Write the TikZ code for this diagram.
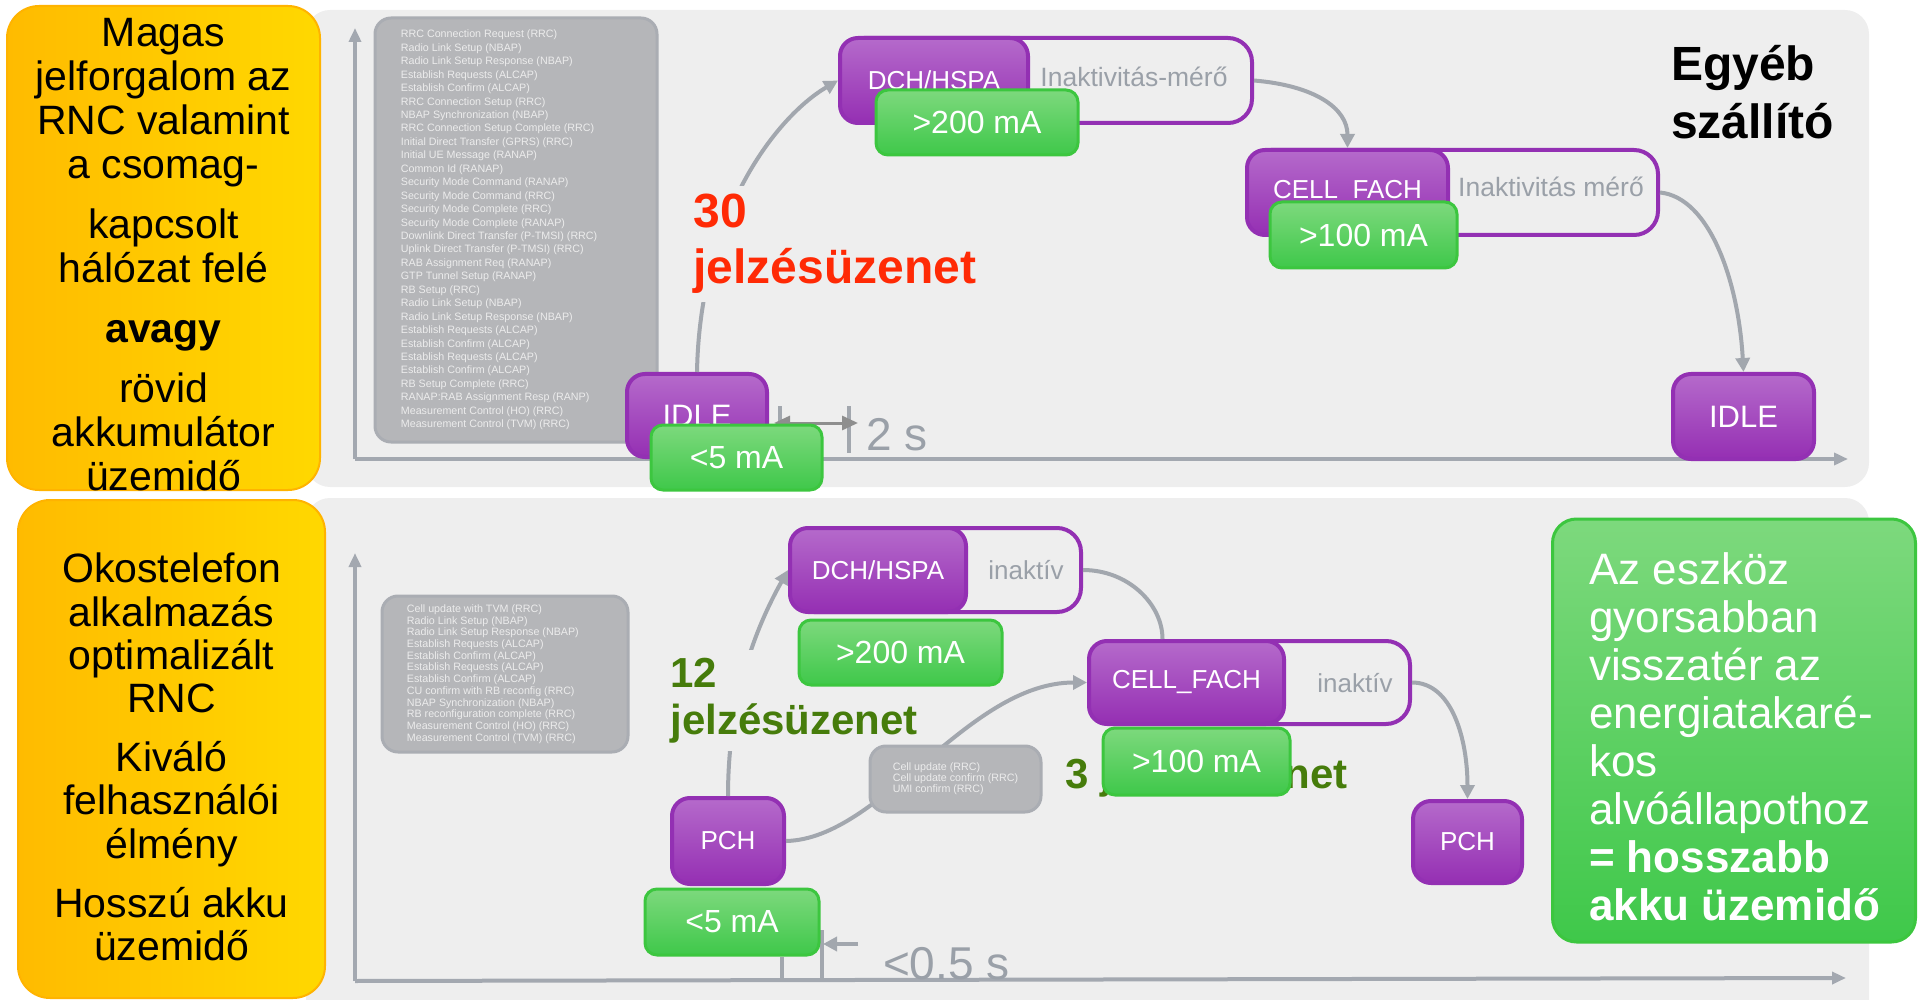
\documentclass[tikz,border=0pt]{standalone}
\usepackage{fontspec}
\setmainfont{Liberation Sans}
\usetikzlibrary{arrows.meta,positioning}

\definecolor{panelgray}{HTML}{EEEEEE}
\definecolor{sideorange}{HTML}{FFBB00}
\definecolor{sideyellow}{HTML}{FFD800}
\definecolor{sideborder}{HTML}{FFB300}
\definecolor{axisgray}{HTML}{A3A8B0}
\definecolor{linkgray}{HTML}{A2A7AE}
\definecolor{spangray}{HTML}{8E8E8E}
\definecolor{msggray}{HTML}{B5B6B9}
\definecolor{msgborder}{HTML}{AAADB3}
\definecolor{msgtextc}{HTML}{ECECEC}
\definecolor{purpletop}{HTML}{B56ACB}
\definecolor{purplebot}{HTML}{952FB3}
\definecolor{purpleborder}{HTML}{9330B3}
\definecolor{greentop}{HTML}{7DD97D}
\definecolor{greenbot}{HTML}{3FC84A}
\definecolor{greenborder}{HTML}{3CC63F}
\definecolor{timergray}{HTML}{9AA0A8}
\definecolor{sigred}{HTML}{FF2A05}
\definecolor{siggreen}{HTML}{467C0B}

\begin{document}
\begin{tikzpicture}[x=0.5pt, y=-0.5pt,
    panel/.style={fill=panelgray, rounded corners=12pt},
    sidebox/.style={draw=sideborder, line width=1pt, left color=sideorange, right color=sideyellow,
      rounded corners=16pt},
    sidetext/.style={inner sep=0pt, align=center, font=\fontsize{20.5}{22}\selectfont},
    axisline/.style={draw=axisgray, line width=2pt, -{Triangle[length=7pt,width=6pt]}},
    msgbox/.style={draw=msgborder, line width=1.5pt, fill=msggray, rounded corners=8pt},
    msgtext/.style={text=msgtextc, align=left, inner sep=0pt},
    timer/.style={draw=purpleborder, line width=2pt, rounded corners=12pt},
    state/.style={draw=purpleborder, line width=2pt, top color=purpletop, bottom color=purplebot,
      rounded corners=9pt, text=white, font=\fontsize{13}{15}\selectfont},
    timertext/.style={text=timergray, font=\fontsize{13.25}{15}\selectfont},
    current/.style={draw=greenborder, line width=1.5pt, top color=greentop, bottom color=greenbot,
      rounded corners=6pt, text=white, font=\fontsize{16}{18}\selectfont},
    link/.style={draw=linkgray, line width=2pt},
    linkarrow/.style={link, -{Triangle[length=7pt,width=7pt]}},
    tickmark/.style={draw=linkgray, line width=2pt},
    spanarrow/.style={draw=spangray, line width=1.5pt},
    timelabel/.style={text=timergray, font=\fontsize{23}{26}\selectfont},
    sigcount/.style={text=siggreen, align=left, font=\bfseries\fontsize{21}{23.5}\selectfont},
  ]
    \useasboundingbox (0,0) rectangle (1918,1000);
    \clip (0,0) rectangle (1918,1000);

    % Panels
    \fill[panel] (306,10) rectangle (1869,487);
    \fill[panel] (306,498) rectangle (1869,1030);

    \node[sidebox, minimum width=156.5pt, minimum height=242pt] (sideA) at (163.5,248) {};
    \node[sidetext] (sideAtxt) at ([yshift=-3.5pt]sideA.center)
      {Magas\\jelforgalom az\\RNC valamint\\a csomag-\\[8pt]kapcsolt\\hálózat felé\\[8pt]
       \textbf{avagy}\\[8pt]rövid\\akkumulátor\\üzemidő};
    \node[sidebox, minimum width=153.5pt, minimum height=249pt] (sideB) at (171.5,749) {};
    \node[sidetext, font=\fontsize{20.5}{21.6}\selectfont] (sideBtxt) at ([yshift=-4pt]sideB.center)
      {Okostelefon\\alkalmazás\\optimalizált\\RNC\\[8pt]Kiváló\\felhasználói\\élmény\\[8pt]
       Hosszú akku\\üzemidő};

    % Axes
    \coordinate (originA) at (355,459);
    \coordinate (originB) at (355,981);
    \draw[axisline] (originA) -- ++(0,-431);
    \draw[axisline] (originA) -- ++(1493,0);
    \draw[axisline] (originB) -- ++(0,-428);
    \draw[axisline] (originB) -- ++(1491,-3);

    % Message lists
    \node[msgbox, minimum width=141pt, minimum height=212pt] (msgA) at (516,230) {};
    \node[msgtext, anchor=west, font=\fontsize{5.35}{6.72}\selectfont] (msgAtxt) at ([xshift=13.5pt]msgA.west)
      {RRC Connection Request (RRC)\\Radio Link Setup (NBAP)\\Radio Link Setup Response (NBAP)\\
       Establish Requests (ALCAP)\\Establish Confirm (ALCAP)\\RRC Connection Setup (RRC)\\
       NBAP Synchronization (NBAP)\\RRC Connection Setup Complete (RRC)\\
       Initial Direct Transfer (GPRS) (RRC)\\Initial UE Message (RANAP)\\Common Id (RANAP)\\
       Security Mode Command (RANAP)\\Security Mode Command (RRC)\\Security Mode Complete (RRC)\\
       Security Mode Complete (RANAP)\\Downlink Direct Transfer (P-TMSI) (RRC)\\
       Uplink Direct Transfer (P-TMSI) (RRC)\\RAB Assignment Req (RANAP)\\GTP Tunnel Setup (RANAP)\\
       RB Setup (RRC)\\Radio Link Setup (NBAP)\\Radio Link Setup Response (NBAP)\\
       Establish Requests (ALCAP)\\Establish Confirm (ALCAP)\\Establish Requests (ALCAP)\\
       Establish Confirm (ALCAP)\\RB Setup Complete (RRC)\\RANAP:RAB Assignment Resp (RANP)\\
       Measurement Control (HO) (RRC)\\Measurement Control (TVM) (RRC)};
    \node[msgbox, minimum width=123pt, minimum height=78pt] (msgB) at (505,674) {};
    \node[msgtext, anchor=west, font=\fontsize{5.35}{5.85}\selectfont] (msgBtxt) at ([xshift=13pt]msgB.west)
      {Cell update with TVM (RRC)\\Radio Link Setup (NBAP)\\Radio Link Setup Response (NBAP)\\
       Establish Requests (ALCAP)\\Establish Confirm (ALCAP)\\Establish Requests (ALCAP)\\
       Establish Confirm (ALCAP)\\CU confirm with RB reconfig (RRC)\\NBAP Synchronization (NBAP)\\
       RB reconfiguration complete (RRC)\\Measurement Control (HO) (RRC)\\Measurement Control (TVM) (RRC)};

    % States, upper row
    \node[state, minimum width=70pt, minimum height=41.5pt, font=\fontsize{15.5}{18}\selectfont] (idleA) at (697,415.5) {IDLE};
    \node[timer, minimum width=206pt, minimum height=42.5pt] (dchA) at (1046,80.5) {};
    \node[state, minimum width=94pt, minimum height=42.5pt, anchor=west] (dchAst) at (dchA.west) {DCH/HSPA};
    \node[timertext] (dchAtm) at (1134,77) {Inaktivitás-mérő};
    \node[timer, minimum width=205.5pt, minimum height=42.5pt] (fachA) at (1452.5,192.5) {};
    \node[state, minimum width=100.5pt, minimum height=42.5pt, anchor=west] (fachAst) at (fachA.west) {CELL\_FACH};
    \node[timertext] (fachAtm) at (1551,187) {Inaktivitás mérő};
    \node[state, minimum width=70.5pt, minimum height=42.5pt, font=\fontsize{15.5}{18}\selectfont] (idleB) at (1743.5,416.5) {IDLE};

    % States, lower row
    \node[timer, minimum width=145.5pt, minimum height=42pt] (dchB) at (935.5,570) {};
    \node[state, minimum width=88pt, minimum height=42pt, anchor=west] (dchBst) at (dchB.west) {DCH/HSPA};
    \node[timertext, font=\fontsize{13}{15}\selectfont] (dchBtm) at (1026,570) {inaktív};
    \node[timer, minimum width=160.5pt, minimum height=41.5pt] (fachB) at (1249.5,682.5) {};
    \node[state, minimum width=97.5pt, minimum height=41.5pt, anchor=west] (fachBst) at (fachB.west) {CELL\_FACH};
    \node[timertext, font=\fontsize{13}{15}\selectfont] (fachBtm) at (1355,683) {inaktív};
    \node[state, minimum width=56pt, minimum height=43pt] (pchA) at (728,841) {PCH};
    \node[state, minimum width=54.5pt, minimum height=41pt] (pchB) at (1467.5,842) {PCH};

    % Transitions
    \draw[linkarrow] (idleA.north) .. controls +(3,-160) and +(-60,35) .. (dchAst.west);
    \draw[linkarrow] (dchA.east) .. controls +(60,5) and +(0,-40) .. (fachAst.north);
    \draw[linkarrow] (fachA.east) .. controls +(50,5) and +(-5,-90) .. (idleB.north);
    \draw[linkarrow] (pchA.north) .. controls +(0,-110) and +(-25,45) .. (dchBst.west);
    \draw[linkarrow] (pchA.east) .. controls +(95,-2) and +(-120,0) .. (fachBst.west);
    \draw[link] (dchB.east) .. controls +(45,0) and +(0,-35) .. ([xshift=-12pt]fachBst.north);
    \draw[linkarrow] (fachB.east) .. controls +(40,0) and +(0,-60) .. (pchB.north);

    % Signalling counts
    \node[sigcount, text=sigred, font=\bfseries\fontsize{24}{28}\selectfont, fill=panelgray,
      anchor=base west, inner sep=4pt] (sigA) at (685,284) {30\\jelzésüzenet};
    \node[sigcount, fill=panelgray, anchor=base west, inner sep=4pt] (sigB) at (662,734) {12\\jelzésüzenet};
    \node[msgbox, minimum width=85.5pt, minimum height=33pt] (msgC) at (955.5,779) {};
    \node[msgtext, font=\fontsize{5.35}{5.5}\selectfont] (msgCtxt) at (msgC.center)
      {Cell update (RRC)\\Cell update confirm (RRC)\\UMI confirm (RRC)};
    \node[sigcount, anchor=base west, inner sep=0pt] (sigC) at (1065,788) {3 jelzésüzenet};

    % Time spans
    \draw[tickmark] (780,406) -- (780,430);
    \draw[tickmark] (849,406) -- (849,453);
    \draw[spanarrow, {Triangle[length=8pt,width=7pt]}-{Triangle[length=8pt,width=7pt]}] (774,423) -- (858,423);
    \draw[tickmark] (782,957) -- (782,980);
    \draw[tickmark] (822,930) -- (822,980);
    \draw[tickmark, -{Triangle[length=7pt,width=7pt]}] (858,944) -- (823,944);
    \node[timelabel] (durA) at (897,435) {2 s};
    \node[timelabel, anchor=base west] (durB) at (876,979) {<0.5 s};

    % Currents
    \node[current, minimum width=85.5pt, minimum height=32.5pt] (idleAcur) at (736.5,457.5) {<5 mA};
    \node[current, minimum width=101pt, minimum height=32.5pt] (dchAcur) at (977,122.5) {>200 mA};
    \node[current, minimum width=93.5pt, minimum height=33pt] (fachAcur) at (1363.5,235) {>100 mA};
    \node[current, minimum width=101.5pt, minimum height=32.5pt] (dchBcur) at (900.5,652.5) {>200 mA};
    \node[current, minimum width=93.5pt, minimum height=33.5pt] (fachBcur) at (1196.5,761.5) {>100 mA};
    \node[current, minimum width=87pt, minimum height=33pt] (pchAcur) at (732,922) {<5 mA};

    % Notes
    \node[anchor=base west, align=left, font=\bfseries\fontsize{24}{29}\selectfont] (vendor) at (1664,139) {Egyéb\\szállító};
    \node[current, rounded corners=12pt, minimum width=181.5pt, minimum height=211.5pt] (summary) at (1734,730.5) {};
    \node[anchor=base west, align=left, text=white, font=\fontsize{22}{24}\selectfont] (summarytxt) at (1582,920)
      {Az eszköz\\gyorsabban\\visszatér az\\energiatakaré-\\kos\\alvóállapothoz\\
       \textbf{= hosszabb}\\\textbf{akku üzemidő}};
\end{tikzpicture}
\end{document}
